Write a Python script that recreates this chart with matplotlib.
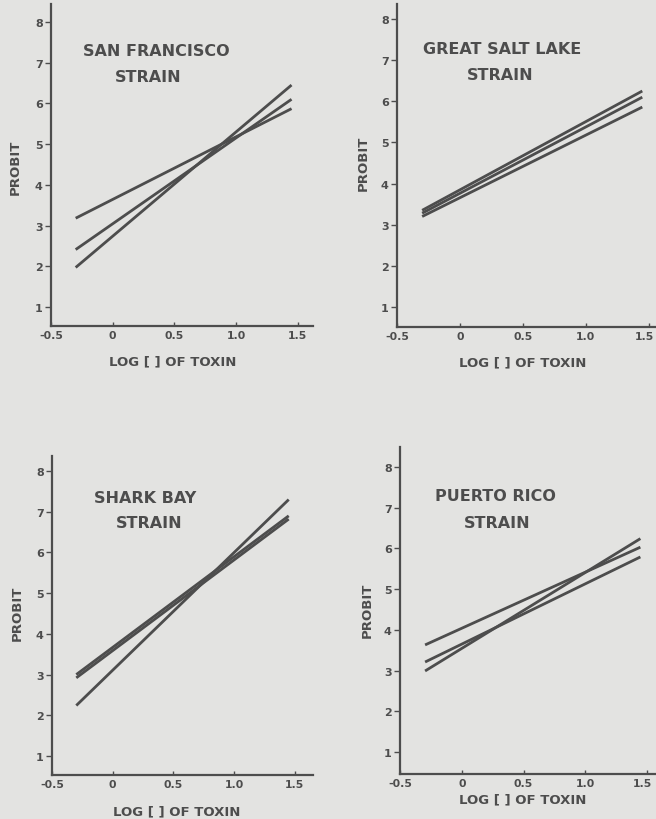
import matplotlib
matplotlib.use("Agg")
import matplotlib.pyplot as plt
from matplotlib.transforms import ScaledTranslation

# Probit regression lines for four strains, drawn between two dose levels
x_ends = [-0.3, 1.45]

strains = ["SAN FRANCISCO", "GREAT SALT LAKE", "SHARK BAY", "PUERTO RICO"]

# (probit at low dose, probit at high dose) for each fitted line
sf_lines = [(3.18, 5.87), (2.41, 6.10), (1.97, 6.45)]
gsl_lines = [(3.35, 6.25), (3.28, 6.10), (3.20, 5.86)]
sb_lines = [(3.00, 6.90), (2.92, 6.82), (2.24, 7.30)]
pr_lines = [(3.63, 6.03), (3.21, 5.79), (2.99, 6.24)]

panel_lines = [sf_lines, gsl_lines, sb_lines, pr_lines]

x_ticks = [-0.5, 0, 0.5, 1.0, 1.5]
x_tick_labels = ["-0.5", "0", "0.5", "1.0", "1.5"]
y_ticks = [1, 2, 3, 4, 5, 6, 7, 8]
x_label = "LOG [ ] OF TOXIN"
y_label = "PROBIT"
title_second_line = "STRAIN"

W, H = 656, 820
PAPER = "#e3e3e1"
INK = "#4d4d4d"
FONT = "DejaVu Sans"

fig = plt.figure(figsize=(W / 100, H / 100), dpi=100)
fig.patch.set_facecolor(PAPER)


def frac(px, py):
    return px / W, 1 - py / H


# pixel boxes (left, right, top, bottom), axis limits, title / label anchor points
layout = [
    dict(box=(51, 313, 5, 327), xlim=(-0.472, 1.624), ylim=(0.533, 8.44),
         t1=(156, 52), t2=(148, 77), yl=(15, 167), xl=(173, 362)),
    dict(box=(397, 656, 5, 328), xlim=(-0.48, 1.559), ylim=(0.514, 8.365),
         t1=(502, 49), t2=(500, 75), yl=(363, 163), xl=(523, 363)),
    dict(box=(52, 313, 457, 776), xlim=(-0.496, 1.65), ylim=(0.533, 8.37),
         t1=(145, 499), t2=(149, 523), yl=(17, 613), xl=(177, 812)),
    dict(box=(400, 656, 448, 775), xlim=(-0.504, 1.577), ylim=(0.46, 8.49),
         t1=(495, 497), t2=(497, 523), yl=(367, 610), xl=(523, 800)),
]

for name, lines, lay in zip(strains, panel_lines, layout):
    l, r, t, b = lay["box"]
    x0, y0 = frac(l, b)
    ax = fig.add_axes([x0, y0, (r - l) / W, (b - t) / H])
    ax.set_facecolor("none")
    ax.set_xlim(*lay["xlim"])
    ax.set_ylim(*lay["ylim"])
    for s in ("top", "right"):
        ax.spines[s].set_visible(False)
    for s in ("left", "bottom"):
        ax.spines[s].set_color(INK)
        ax.spines[s].set_linewidth(1.6)

    for lo, hi in lines:
        ax.plot(x_ends, [lo, hi], color=INK, lw=2.0, solid_capstyle="butt")

    ax.set_yticks(y_ticks)
    ax.set_yticklabels([str(v) for v in y_ticks], fontsize=8, color=INK,
                       family=FONT, fontweight="bold")
    ax.tick_params(axis="y", direction="out", length=4, width=1, color=INK,
                   pad=2)
    ax.set_xticks(x_ticks)
    ax.set_xticklabels(x_tick_labels, fontsize=7.8, color=INK, family=FONT,
                       fontweight="bold")
    ax.tick_params(axis="x", direction="in", length=3, width=1, color=INK,
                   pad=3)
    # keep the last tick label inside the page on panels touching the edge
    if r >= W:
        last = ax.get_xticklabels()[-1]
        last.set_transform(last.get_transform()
                           + ScaledTranslation(-4 / 100, 0, fig.dpi_scale_trans))

    fig.text(*frac(*lay["t1"]), name, ha="center", va="center", fontsize=11.5,
             color=INK, family=FONT, fontweight="bold")
    fig.text(*frac(*lay["t2"]), title_second_line, ha="center", va="center",
             fontsize=11.5, color=INK, family=FONT, fontweight="bold")
    fig.text(*frac(*lay["yl"]), y_label, ha="center", va="center",
             rotation=90, fontsize=9.5, color=INK, family=FONT,
             fontweight="bold")
    fig.text(*frac(*lay["xl"]), x_label, ha="center", va="center",
             fontsize=9.5, color=INK, family=FONT, fontweight="bold")

fig.savefig("out.png", dpi=100, facecolor=PAPER)
